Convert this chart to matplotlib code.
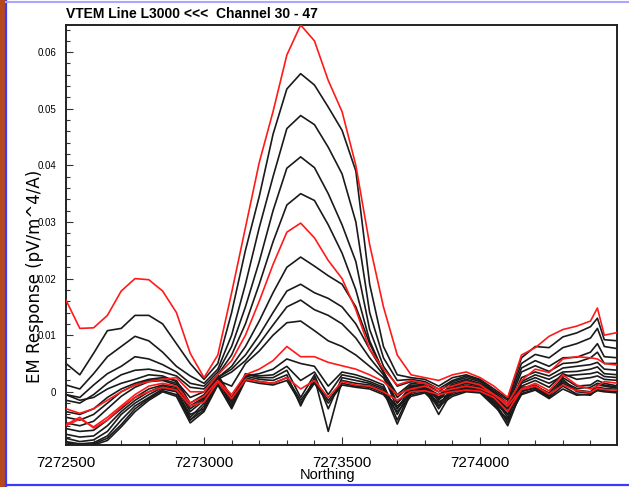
import numpy as np
import matplotlib
matplotlib.use("Agg")
import matplotlib.pyplot as plt
from matplotlib.ticker import MultipleLocator, FuncFormatter
from matplotlib.patches import Rectangle
from matplotlib.lines import Line2D

# Northing sample positions (m)
northing = [7272500, 7272550, 7272600, 7272650, 7272700, 7272750, 7272800, 7272850, 7272900, 7272950,
            7273000, 7273050, 7273100, 7273150, 7273200, 7273250, 7273300, 7273350, 7273400, 7273450,
            7273500, 7273550, 7273600, 7273650, 7273700, 7273750, 7273800, 7273850, 7273900, 7273950,
            7274000, 7274050, 7274100, 7274150, 7274200, 7274250, 7274300, 7274350, 7274400, 7274425,
            7274450, 7274500]

channels = list(range(30, 48))
red_channels = [30, 35, 40, 45]

ch30 = [0.0162, 0.0112, 0.0113, 0.0135, 0.0178, 0.0200, 0.0198, 0.0178, 0.0140, 0.0068,
        0.0025, 0.0065, 0.0175, 0.0290, 0.0405, 0.0495, 0.0595, 0.0648, 0.0620, 0.0550,
        0.0495, 0.0400, 0.0260, 0.0150, 0.0065, 0.0030, 0.0025, 0.0020, 0.0030, 0.0035,
        0.0025, 0.0010, -0.0010, 0.0065, 0.0078, 0.0098, 0.0110, 0.0116, 0.0125, 0.0148,
        0.0100, 0.0105]
ch31 = [0.0050, 0.0030, 0.0068, 0.0108, 0.0112, 0.0135, 0.0135, 0.0120, 0.0085, 0.0050,
        0.0022, 0.0050, 0.0140, 0.0250, 0.0345, 0.0455, 0.0535, 0.0562, 0.0542, 0.0503,
        0.0462, 0.0390, 0.0190, 0.0080, 0.0030, 0.0025, 0.0022, 0.0010, 0.0025, 0.0030,
        0.0022, 0.0005, -0.0012, 0.0060, 0.0080, 0.0078, 0.0097, 0.0104, 0.0115, 0.0130,
        0.0092, 0.0090]
ch32 = [0.0012, 0.0005, 0.0032, 0.0062, 0.0080, 0.0098, 0.0090, 0.0070, 0.0045, 0.0028,
        0.0015, 0.0040, 0.0100, 0.0190, 0.0290, 0.0380, 0.0465, 0.0488, 0.0472, 0.0432,
        0.0385, 0.0300, 0.0140, 0.0060, 0.0020, 0.0022, 0.0018, 0.0005, 0.0020, 0.0028,
        0.0020, 0.0002, -0.0015, 0.0050, 0.0066, 0.0060, 0.0078, 0.0085, 0.0095, 0.0112,
        0.0080, 0.0076]
ch33 = [-0.0005, -0.0010, 0.0012, 0.0032, 0.0045, 0.0062, 0.0058, 0.0048, 0.0035, 0.0015,
        0.0010, 0.0035, 0.0080, 0.0150, 0.0230, 0.0320, 0.0395, 0.0415, 0.0396, 0.0350,
        0.0295, 0.0230, 0.0110, 0.0045, 0.0010, 0.0018, 0.0015, 0.0000, 0.0018, 0.0025,
        0.0018, 0.0000, -0.0020, 0.0042, 0.0055, 0.0045, 0.0060, 0.0061, 0.0070, 0.0085,
        0.0062, 0.0060]
ch34 = [-0.0015, -0.0020, -0.0005, 0.0015, 0.0030, 0.0038, 0.0040, 0.0035, 0.0028, 0.0008,
        0.0005, 0.0030, 0.0065, 0.0120, 0.0190, 0.0265, 0.0330, 0.0350, 0.0338, 0.0295,
        0.0245, 0.0180, 0.0090, 0.0035, -0.0005, 0.0015, 0.0012, -0.0010, 0.0015, 0.0022,
        0.0015, -0.0002, -0.0025, 0.0035, 0.0046, 0.0036, 0.0050, 0.0052, 0.0060, 0.0070,
        0.0050, 0.0050]
ch35 = [-0.0030, -0.0038, -0.0030, -0.0015, 0.0000, 0.0012, 0.0018, 0.0022, 0.0025, 0.0000,
        0.0000, 0.0030, 0.0055, 0.0100, 0.0160, 0.0225, 0.0282, 0.0298, 0.0272, 0.0232,
        0.0200, 0.0145, 0.0075, 0.0040, 0.0012, 0.0020, 0.0015, 0.0005, 0.0010, 0.0018,
        0.0012, -0.0005, -0.0020, 0.0020, 0.0040, 0.0034, 0.0058, 0.0062, 0.0060, 0.0058,
        0.0050, 0.0047]
ch36 = [-0.0005, -0.0015, -0.0010, 0.0005, 0.0015, 0.0022, 0.0030, 0.0028, 0.0018, -0.0010,
        0.0000, 0.0025, 0.0045, 0.0080, 0.0125, 0.0175, 0.0220, 0.0238, 0.0222, 0.0205,
        0.0190, 0.0150, 0.0085, 0.0035, -0.0010, 0.0012, 0.0010, -0.0015, 0.0012, 0.0020,
        0.0012, -0.0005, -0.0030, 0.0025, 0.0035, 0.0028, 0.0042, 0.0045, 0.0048, 0.0052,
        0.0040, 0.0038]
ch37 = [-0.0035, -0.0040, -0.0030, -0.0010, 0.0005, 0.0015, 0.0022, 0.0025, 0.0020, -0.0020,
        -0.0005, 0.0025, 0.0040, 0.0065, 0.0100, 0.0140, 0.0178, 0.0190, 0.0175, 0.0165,
        0.0150, 0.0120, 0.0075, 0.0035, -0.0020, 0.0010, 0.0008, -0.0005, 0.0010, 0.0018,
        0.0010, -0.0008, -0.0035, 0.0018, 0.0030, 0.0022, 0.0035, 0.0036, 0.0040, 0.0044,
        0.0032, 0.0030]
ch38 = [-0.0045, -0.0050, -0.0040, -0.0020, 0.0000, 0.0012, 0.0020, 0.0022, 0.0015, -0.0025,
        -0.0010, 0.0022, 0.0035, 0.0055, 0.0085, 0.0118, 0.0150, 0.0162, 0.0145, 0.0135,
        0.0120, 0.0095, 0.0060, 0.0030, -0.0030, 0.0008, 0.0010, -0.0025, 0.0008, 0.0015,
        0.0010, -0.0010, -0.0040, 0.0015, 0.0025, 0.0015, 0.0028, 0.0030, 0.0032, 0.0035,
        0.0027, 0.0025]
ch39 = [-0.0055, -0.0060, -0.0052, -0.0030, -0.0008, 0.0008, 0.0018, 0.0020, 0.0012, -0.0030,
        -0.0012, 0.0020, 0.0010, 0.0050, 0.0072, 0.0100, 0.0122, 0.0125, 0.0108, 0.0090,
        0.0080, 0.0065, 0.0045, 0.0025, -0.0020, 0.0006, 0.0008, -0.0010, 0.0006, 0.0012,
        0.0008, -0.0010, -0.0030, 0.0010, 0.0020, 0.0008, 0.0032, 0.0022, 0.0025, 0.0028,
        0.0022, 0.0020]
ch40 = [-0.0060, -0.0048, -0.0062, -0.0045, -0.0025, -0.0005, 0.0010, 0.0015, 0.0010, -0.0020,
        -0.0008, 0.0020, -0.0005, 0.0030, 0.0040, 0.0055, 0.0080, 0.0062, 0.0062, 0.0052,
        0.0046, 0.0040, 0.0030, 0.0018, -0.0005, 0.0005, 0.0010, 0.0000, 0.0005, 0.0010,
        0.0006, -0.0005, -0.0025, 0.0005, 0.0015, 0.0002, 0.0030, 0.0012, 0.0005, 0.0010,
        0.0018, 0.0015]
ch41 = [-0.0065, -0.0070, -0.0068, -0.0050, -0.0030, -0.0010, 0.0005, 0.0012, 0.0008, -0.0035,
        -0.0015, 0.0030, -0.0010, 0.0028, 0.0032, 0.0040, 0.0058, 0.0050, 0.0045, 0.0010,
        0.0035, 0.0030, 0.0022, 0.0012, -0.0040, 0.0005, 0.0008, -0.0030, 0.0004, 0.0010,
        0.0005, -0.0012, -0.0045, 0.0008, 0.0010, -0.0002, 0.0025, 0.0010, 0.0012, 0.0020,
        0.0015, 0.0010]
ch42 = [-0.0075, -0.0080, -0.0078, -0.0060, -0.0035, -0.0015, 0.0000, 0.0010, 0.0005, -0.0045,
        -0.0020, 0.0028, -0.0015, 0.0030, 0.0028, 0.0030, 0.0045, 0.0020, 0.0035, -0.0005,
        0.0030, 0.0025, 0.0018, 0.0008, -0.0050, 0.0002, 0.0006, -0.0040, 0.0002, 0.0008,
        0.0004, -0.0015, -0.0055, 0.0003, 0.0012, -0.0005, 0.0018, 0.0006, 0.0008, 0.0015,
        0.0012, 0.0008]
ch43 = [-0.0082, -0.0088, -0.0085, -0.0070, -0.0040, -0.0020, -0.0005, 0.0008, 0.0002, -0.0050,
        -0.0025, 0.0025, -0.0020, 0.0032, 0.0025, 0.0025, 0.0038, -0.0010, 0.0030, -0.0030,
        0.0025, 0.0020, 0.0015, 0.0005, -0.0030, 0.0000, 0.0005, -0.0020, 0.0000, 0.0006,
        0.0003, -0.0018, -0.0040, 0.0000, 0.0008, -0.0006, 0.0015, 0.0003, 0.0000, 0.0012,
        0.0010, 0.0006]
ch44 = [-0.0088, -0.0092, -0.0090, -0.0078, -0.0050, -0.0025, -0.0010, 0.0005, 0.0000, -0.0040,
        -0.0030, 0.0022, -0.0025, 0.0028, 0.0022, 0.0020, 0.0030, -0.0025, 0.0025, -0.0070,
        0.0020, 0.0015, 0.0012, 0.0002, -0.0057, -0.0002, 0.0003, -0.0012, -0.0002, 0.0004,
        0.0002, -0.0020, -0.0060, 0.0002, 0.0006, -0.0008, 0.0022, 0.0000, -0.0002, 0.0008,
        0.0006, 0.0004]
ch45 = [-0.0058, -0.0045, -0.0064, -0.0050, -0.0027, -0.0010, 0.0000, 0.0008, 0.0003, -0.0025,
        -0.0018, 0.0018, -0.0012, 0.0022, 0.0018, 0.0015, 0.0025, 0.0005, 0.0020, -0.0010,
        0.0018, 0.0012, 0.0010, 0.0000, -0.0015, 0.0000, 0.0002, -0.0005, 0.0000, 0.0003,
        0.0001, -0.0010, -0.0035, 0.0004, 0.0010, -0.0004, 0.0012, 0.0002, -0.0001, 0.0006,
        0.0004, 0.0003]
ch46 = [-0.0090, -0.0094, -0.0092, -0.0082, -0.0058, -0.0030, -0.0012, 0.0002, -0.0005, -0.0050,
        -0.0032, 0.0015, -0.0028, 0.0025, 0.0018, 0.0015, 0.0025, -0.0015, 0.0018, -0.0015,
        0.0015, 0.0010, 0.0008, -0.0002, -0.0025, -0.0005, 0.0000, -0.0018, -0.0005, 0.0002,
        0.0000, -0.0022, -0.0050, -0.0003, 0.0004, -0.0010, 0.0010, -0.0004, -0.0006, 0.0004,
        0.0002, 0.0000]
ch47 = [-0.0093, -0.0095, -0.0094, -0.0086, -0.0062, -0.0035, -0.0015, 0.0000, -0.0008, -0.0055,
        -0.0035, 0.0012, -0.0030, 0.0020, 0.0015, 0.0012, 0.0020, -0.0020, 0.0015, -0.0020,
        0.0012, 0.0008, 0.0005, -0.0005, -0.0035, -0.0008, -0.0002, -0.0025, -0.0008, 0.0000,
        -0.0002, -0.0025, -0.0048, -0.0005, 0.0003, -0.0012, 0.0005, -0.0006, -0.0004, 0.0002,
        0.0000, -0.0002]

series = [ch30, ch31, ch32, ch33, ch34, ch35, ch36, ch37, ch38, ch39,
          ch40, ch41, ch42, ch43, ch44, ch45, ch46, ch47]

title = "VTEM Line L3000 <<<  Channel 30 - 47"
xlabel = "Northing"
ylabel = "EM Response (pV/m^4/A)"

plt.rcParams['font.family'] = ['Liberation Sans', 'DejaVu Sans']

W, H = 629, 487
fig = plt.figure(figsize=(W / 100, H / 100), dpi=100)
fig.patch.set_facecolor('white')

# decorative window frame
fig.add_artist(Rectangle((0, 0), 5 / W, 1, transform=fig.transFigure,
                         facecolor='#b5481c', edgecolor='none'))
fig.add_artist(Line2D([6.5 / W, 6.5 / W], [0, 1], transform=fig.transFigure,
                      color='#3a3aff', lw=1.6))
fig.add_artist(Line2D([6.5 / W, 1], [1 - 1.5 / H, 1 - 1.5 / H], transform=fig.transFigure,
                      color='#a8a8ff', lw=1.5))
fig.add_artist(Line2D([6.5 / W, 1], [1 - 484.5 / H, 1 - 484.5 / H], transform=fig.transFigure,
                      color='#3a3aff', lw=1.6))

ax = fig.add_axes([66 / W, 1 - 445 / H, (617 - 66) / W, (445 - 25) / H])

for ch, vals in zip(channels, series):
    col = '#ff1a1a' if ch in red_channels else '#1a1a1a'
    ax.plot(northing, vals, color=col, lw=1.2, solid_joinstyle='round',
            zorder=3 if ch in red_channels else 2)

ax.set_xlim(7272500, 7274496)
ax.set_ylim(-0.0094, 0.0648)

ax.xaxis.set_major_locator(MultipleLocator(500))
ax.xaxis.set_minor_locator(MultipleLocator(100))
ax.yaxis.set_major_locator(MultipleLocator(0.01))
ax.yaxis.set_minor_locator(MultipleLocator(0.002))
ax.xaxis.set_major_formatter(FuncFormatter(lambda v, p: f"{int(round(v))}"))
ax.yaxis.set_major_formatter(FuncFormatter(lambda v, p: "0" if abs(v) < 1e-9 else f"{v:.2f}"))

ax.tick_params(axis='both', which='both', direction='in', top=False, right=False, color='#333333')
ax.tick_params(axis='x', which='major', length=6, width=0.8, labelsize=11, pad=8)
ax.tick_params(axis='x', which='minor', length=3.5, width=0.8)
ax.tick_params(axis='y', which='major', length=5, width=0.8, labelsize=7, pad=7)
ax.tick_params(axis='y', which='minor', length=3, width=0.8)

for s in ax.spines.values():
    s.set_color('#222222')
    s.set_linewidth(1.4)

fig.text(66 / W, 1 - 14 / H, title, fontsize=10, fontweight='bold', ha='left', va='center')
fig.text(328 / W, 1 - 475 / H, xlabel, fontsize=10.5, ha='center', va='center')
fig.text(35 / W, 1 - 276 / H, ylabel, fontsize=12, rotation=90, ha='center', va='center',
         family=['DejaVu Sans'])

fig.savefig("out.png", dpi=100, facecolor='white')
